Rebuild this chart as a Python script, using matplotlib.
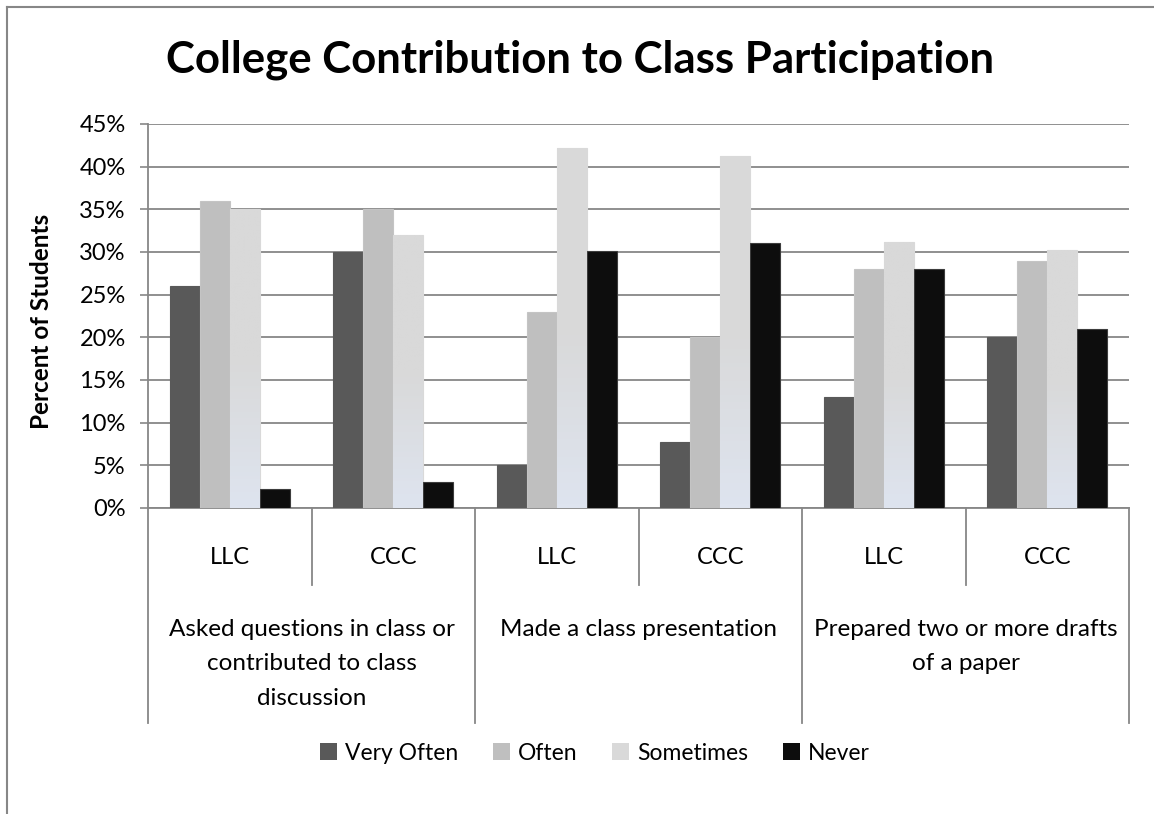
import numpy as np
import matplotlib
matplotlib.use('Agg')
import matplotlib.pyplot as plt
from matplotlib.lines import Line2D
from matplotlib.patches import Patch
from matplotlib.colors import LinearSegmentedColormap
from matplotlib.ticker import FuncFormatter
import matplotlib.transforms as mtransforms

# Data (percent of students)
colleges = ['LLC', 'CCC', 'LLC', 'CCC', 'LLC', 'CCC']
activities = ['Asked questions in class or\ncontributed to class\ndiscussion',
              'Made a class presentation',
              'Prepared two or more drafts\nof a paper']
series_names = ['Very Often', 'Often', 'Sometimes', 'Never']
very_often = [26, 30, 5, 7.7, 13, 20]
often = [36, 35, 23, 20, 28, 29]
sometimes = [35, 32, 42.2, 41.3, 31.2, 30.2]
never = [2.2, 3, 30.1, 31, 28, 21]
y_ticks = [0, 5, 10, 15, 20, 25, 30, 35, 40, 45]

series = [very_often, often, sometimes, never]
colors = ['#595959', '#bfbfbf', '#d9d9d9', '#0d0d0d']
edges = ['#595959', '#c4c4c4', '#d9d9d9', '#3c3c3c']
grid_grey = '#878787'

plt.rcParams['font.family'] = ['Lato', 'DejaVu Sans']

W, H = 1154, 814
fig = plt.figure(figsize=(W / 100, H / 100), dpi=100)
ax = fig.add_axes([148 / W, 1 - 508 / H, (1129 - 148) / W, (508 - 124) / H])

n = len(colleges)
x = np.arange(n) + 0.5
bw = 30 / 163.5

# gradient for the "Sometimes" bars (grey on top, pale blue at the bottom)
grad_cmap = LinearSegmentedColormap.from_list(
    'grad', [(0, '#dee4ef'), (0.5, '#d9d9d9'), (1, '#d9d9d9')])

for i, vals in enumerate(series):
    pos = x + (i - 1.5) * bw
    bars = ax.bar(pos, vals, width=bw, color=colors[i], edgecolor=edges[i],
                  linewidth=0.8, zorder=3)
    if i == 2:
        for rect in bars:
            x0 = rect.get_x()
            h = rect.get_height()
            g = np.linspace(1, 0, 100).reshape(-1, 1)
            im = ax.imshow(g, cmap=grad_cmap, aspect='auto',
                           extent=[x0, x0 + bw, 0, h], zorder=3.5,
                           vmin=0, vmax=1)
            im.set_clip_path(rect)

ax.set_xlim(0, n)
ax.set_ylim(0, 45)
ax.set_yticks(y_ticks)
ax.yaxis.set_major_formatter(FuncFormatter(lambda v, p: f'{int(v)}%'))
ax.set_xticks([])
ax.grid(axis='y', color=grid_grey, linewidth=1.3, zorder=0)
ax.tick_params(axis='y', direction='out', length=6, width=1.2,
               color=grid_grey, labelsize=17, pad=10)
for s in ['top', 'right']:
    ax.spines[s].set_visible(False)
ax.spines['left'].set_color(grid_grey)
ax.spines['left'].set_linewidth(1.3)
ax.spines['bottom'].set_color(grid_grey)
ax.spines['bottom'].set_linewidth(1.3)

# multi-level category axis
trans = mtransforms.blended_transform_factory(ax.transData, ax.transAxes)
px = 384.0
for i in range(n + 1):
    bottom = -(723 - 508) / px if i % 2 == 0 else -(585 - 508) / px
    ax.add_line(Line2D([i, i], [0, bottom], transform=trans, color=grid_grey,
                       linewidth=1.3, clip_on=False))
for i, lab in enumerate(colleges):
    ax.text(x[i], -(557 - 508) / px, lab, transform=trans, ha='center',
            va='center', fontsize=17)
for j, lab in enumerate(activities):
    ax.text(2 * j + 1, -(619 - 508) / px, lab, transform=trans, ha='center',
            va='top', fontsize=17.5, linespacing=1.78, multialignment='center')

fig.text(42 / W, 1 - 321 / H, 'Percent of Students', rotation=90,
         ha='center', va='center', fontsize=17.5, fontweight='bold')
fig.text(580 / W, 1 - 73 / H, 'College Contribution to Class Participation',
         ha='center', va='baseline', fontsize=31.5, fontweight='bold')

handles = [Patch(facecolor=colors[i], edgecolor='none', label=series_names[i])
           for i in range(4)]
fig.legend(handles=handles, loc='center', bbox_to_anchor=(595 / W, 1 - 753 / H),
           ncol=4, frameon=False, fontsize=16.5, handlelength=0.75,
           handleheight=0.75, handletextpad=0.35, columnspacing=1.5)

# chart frame (only top and left edges fall inside the picture)
fig.add_artist(Line2D([7 / W, 7 / W], [0, 1 - 7 / H], transform=fig.transFigure,
                      color=grid_grey, linewidth=1.5))
fig.add_artist(Line2D([7 / W, 1], [1 - 7 / H, 1 - 7 / H], transform=fig.transFigure,
                      color=grid_grey, linewidth=1.5))

fig.savefig('out.png', dpi=100)
